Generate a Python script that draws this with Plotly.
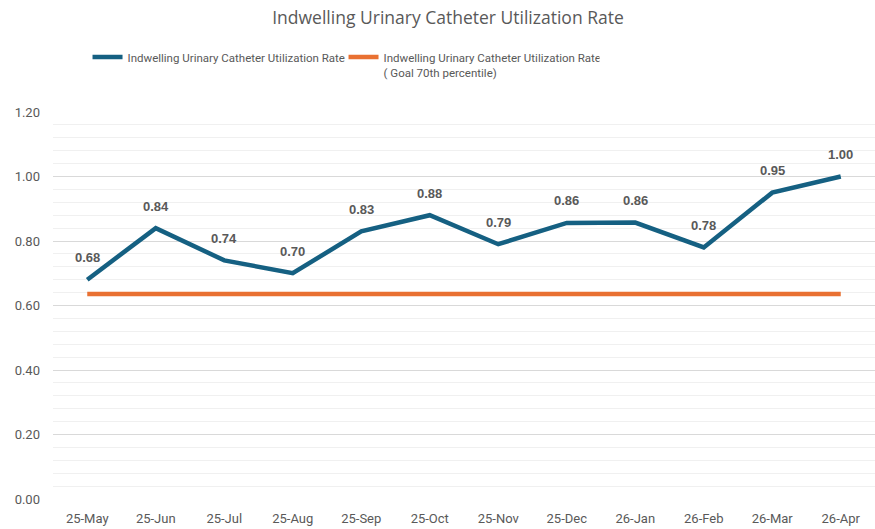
import plotly.graph_objects as go

months = ["25-May", "25-Jun", "25-Jul", "25-Aug", "25-Sep", "25-Oct",
          "25-Nov", "25-Dec", "26-Jan", "26-Feb", "26-Mar", "26-Apr"]
rate = [0.68, 0.84, 0.74, 0.70, 0.83, 0.88, 0.79, 0.856, 0.857, 0.78, 0.95, 1.00]
goal = [0.636] * 12
y_ticks = [0.0, 0.2, 0.4, 0.6, 0.8, 1.0, 1.2]

GRAY = "#595959"
BLUE = "#156082"
ORANGE = "#E97132"

fig = go.Figure()

fig.add_trace(
    go.Scatter(
        x=months,
        y=rate,
        mode="lines",
        name="Indwelling Urinary Catheter Utilization Rate",
        line=dict(color=BLUE, width=4.5),
    )
)

fig.add_trace(
    go.Scatter(
        x=months,
        y=goal,
        mode="lines",
        name="Indwelling Urinary Catheter Utilization Rate<br>( Goal 70th percentile)",
        line=dict(color=ORANGE, width=4.5),
    )
)

# data labels sit a little above each point, like the Excel ones
for m, v in zip(months, rate):
    fig.add_annotation(
        x=m,
        y=v,
        text=f"<b>{v:.2f}</b>",
        showarrow=False,
        yshift=22,
        font=dict(family="Liberation Sans, Arial", size=13, color=GRAY),
    )

fig.update_layout(
    width=875,
    height=529,
    margin=dict(l=53, r=0, t=112, b=30),
    paper_bgcolor="white",
    plot_bgcolor="white",
    title=dict(
        text="Indwelling Urinary Catheter Utilization Rate",
        x=0.512,
        xanchor="center",
        y=0.967,
        yanchor="middle",
        font=dict(family="Open Sans, Roboto, Arial", size=17.5, color=GRAY),
    ),
    showlegend=True,
    legend=dict(
        orientation="h",
        x=0.042,
        xanchor="left",
        y=1.178,
        yanchor="top",
        entrywidth=211,
        entrywidthmode="pixels",
        valign="top",
        font=dict(family="Roboto, Arial", size=11.5, color=GRAY),
        itemwidth=30,
    ),
    font=dict(family="Roboto, Arial", color=GRAY),
)

fig.update_xaxes(
    range=[-0.5, len(months) - 0.5],
    showgrid=False,
    showline=False,
    ticks="",
    ticklabelstandoff=10,
    automargin=False,
    tickfont=dict(size=13, color=GRAY),
)

fig.update_yaxes(
    range=[0, 1.2],
    tickvals=y_ticks,
    tickformat=".2f",
    showgrid=True,
    gridcolor="#D9D9D9",
    gridwidth=1,
    minor=dict(dtick=0.04, showgrid=True, gridcolor="#F0F0F0", gridwidth=1),
    zeroline=False,
    ticks="",
    ticklabelstandoff=12,
    automargin=False,
    tickfont=dict(size=13, color=GRAY),
)

fig.write_html(
    "out.html",
    config={"displayModeBar": False},
    post_script="document.body.style.margin='0px';",
)
